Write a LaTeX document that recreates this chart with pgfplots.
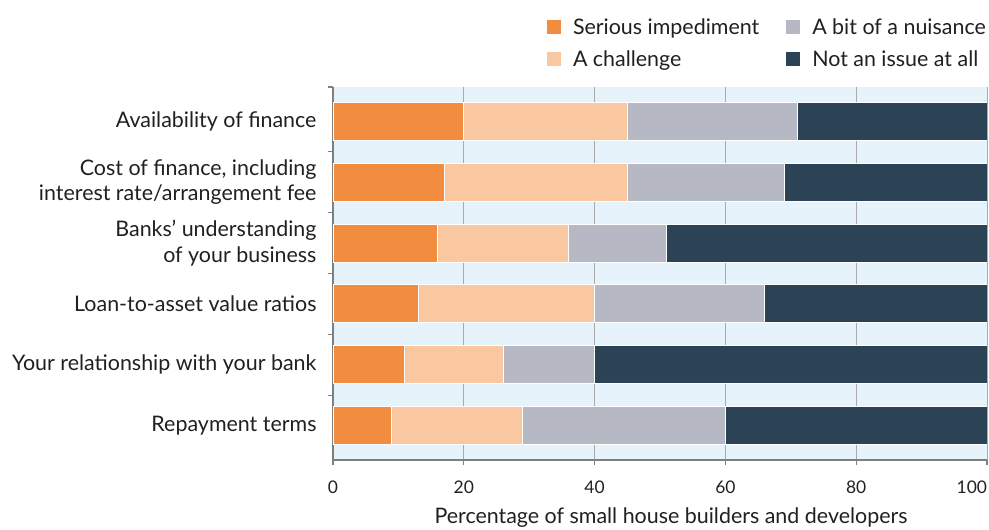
\documentclass[border=0pt]{standalone}
\usepackage{fontspec}
\setmainfont{Lato}
\usepackage{pgfplots}
\usepackage{pgfplotstable}
\pgfplotsset{compat=1.18}
\definecolor{c1}{HTML}{F28D3F}
\definecolor{c2}{HTML}{F9C8A1}
\definecolor{c3}{HTML}{B6B9C4}
\definecolor{c4}{HTML}{2C4356}
\definecolor{bg}{HTML}{E6F3FB}
\definecolor{axgray}{HTML}{7F7F7F}
\definecolor{gridgray}{HTML}{AAAAAA}
\definecolor{txt}{HTML}{231F20}
\pgfplotstableread{
y a b c d
5 20 25 26 29
4 17 28 24 31
3 16 20 15 49
2 13 27 26 34
1 11 15 14 60
0 9 20 31 40
}\datatable
\newcommand{\lf}{\fontsize{21.5}{26}\selectfont}
\begin{document}
\begin{tikzpicture}
\useasboundingbox (0,0) rectangle (989bp,530bp);
\begin{axis}[
  at={(333bp,70bp)}, anchor=south west,
  scale only axis, width=654bp, height=373bp,
  xbar stacked, bar width=38bp,
  xmin=0, xmax=100, ymin=-0.56, ymax=5.56,
  axis x line*=bottom, axis y line*=left,
  axis line style={axgray, line width=1.5bp},
  axis background/.style={fill=bg},
  tick align=outside,
  major tick length=5bp, minor tick length=5bp,
  xtick={0,20,...,100},
  xticklabels={0,20,40,60,80,\llap{100}},
  every major x tick/.style={axgray, line width=1.2bp},
  ytick={0,...,5},
  every major y tick/.style={draw=none},
  minor ytick={0.5,1.5,2.5,3.5,4.5,5.56},
  every minor y tick/.style={axgray, line width=1.2bp},
  yticklabels={Repayment terms, Your relationship with your bank, Loan-to-asset value ratios, {Banks’ understanding\\of your business}, {Cost of finance, including\\interest rate/arrangement fee}, Availability of finance},
  yticklabel style={align=right, font=\lf, text=txt, xshift=-8bp},
  xticklabel style={font=\fontsize{17.5}{21}\selectfont, text=txt, yshift=-12bp},
  /pgf/number format/assume math mode=true,
  xmajorgrids, major x grid style={gridgray, line width=0.9bp},
  xlabel={Percentage of small house builders and developers},
  xlabel style={font=\lf, text=txt, xshift=11bp, yshift=-8bp},
  legend columns=2, transpose legend, legend cell align=left,
  legend style={draw=none, fill=none, at={(1,1)}, anchor=south east, yshift=15bp, xshift=4bp,
    font=\lf, text=txt, row sep=11bp,
    /tikz/every even column/.append style={column sep=24bp}},
]
\addplot+[fill=c1, draw=white, line width=1bp, legend image code/.code={\path (0bp,0bp) -- (24bp,0bp); \path[fill=c1] (0bp,-7.5bp) rectangle (15bp,7.5bp);}] table[x=a, y=y] {\datatable};
\addplot+[fill=c2, draw=white, line width=1bp, legend image code/.code={\path (0bp,0bp) -- (24bp,0bp); \path[fill=c2] (0bp,-7.5bp) rectangle (15bp,7.5bp);}] table[x=b, y=y] {\datatable};
\addplot+[fill=c3, draw=white, line width=1bp, legend image code/.code={\path (0bp,0bp) -- (24bp,0bp); \path[fill=c3] (0bp,-7.5bp) rectangle (15bp,7.5bp);}] table[x=c, y=y] {\datatable};
\addplot+[fill=c4, draw=white, line width=1bp, legend image code/.code={\path (0bp,0bp) -- (24bp,0bp); \path[fill=c4] (0bp,-7.5bp) rectangle (15bp,7.5bp);}] table[x=d, y=y] {\datatable};
\legend{Serious impediment, A challenge, A bit of a nuisance, Not an issue at all}
\end{axis}
\end{tikzpicture}
\end{document}
